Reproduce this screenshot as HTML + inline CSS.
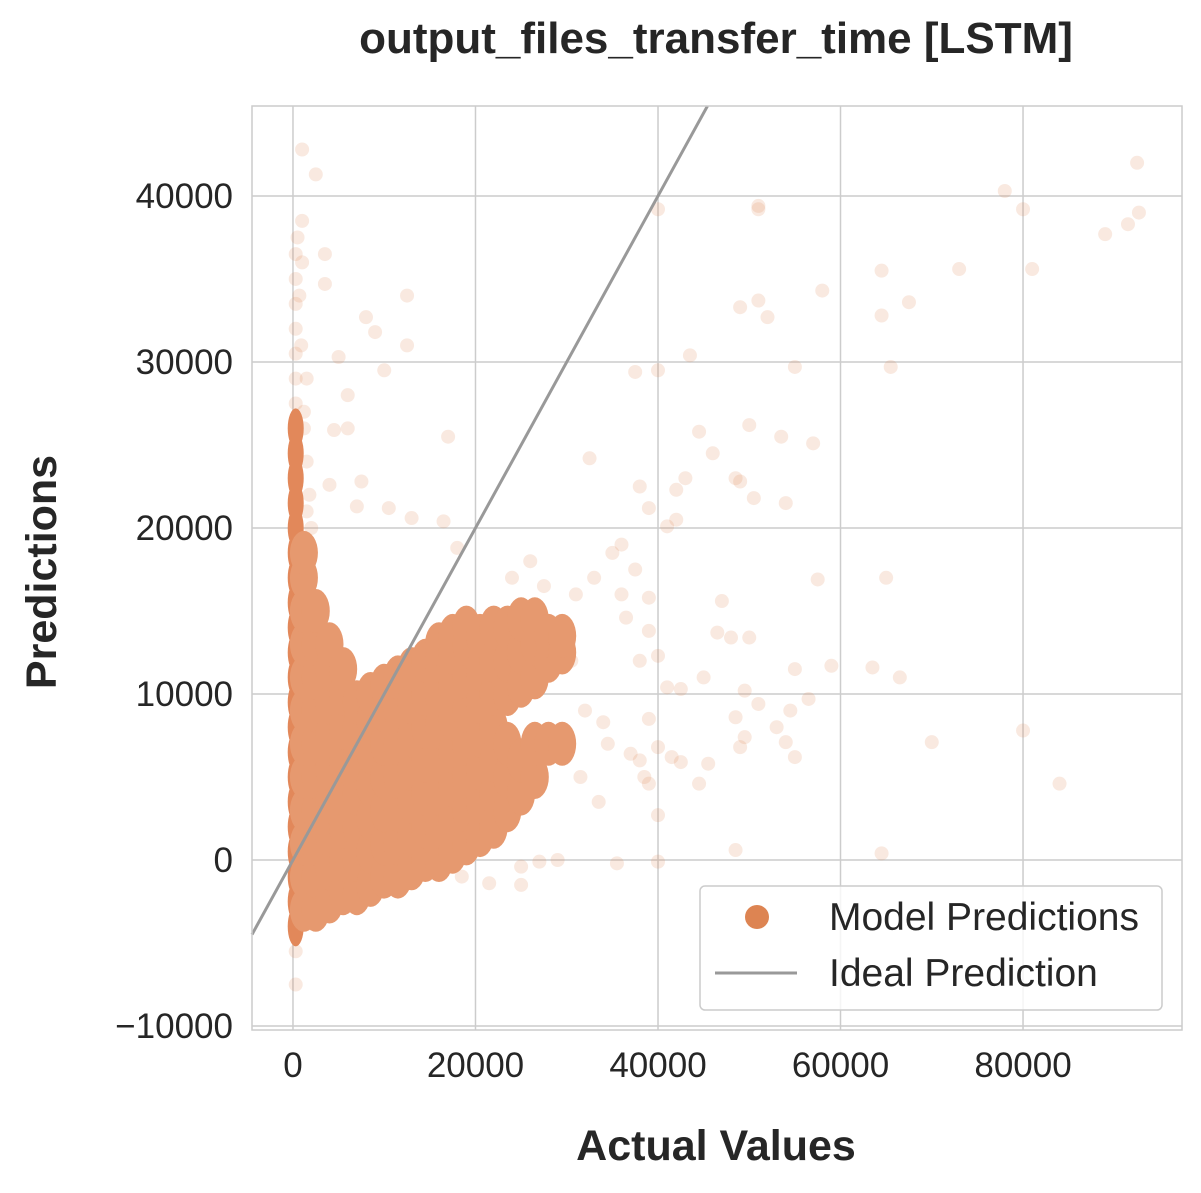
<!DOCTYPE html>
<html><head><meta charset="utf-8"><style>
body{margin:0;background:#fff}
svg text{font-family:"Liberation Sans",Arial,sans-serif;fill:#262626}
</style></head><body>
<svg id="chart" width="1201" height="1188" viewBox="0 0 1201 1188" xmlns="http://www.w3.org/2000/svg">
<text x="716" y="53" text-anchor="middle" font-size="44" font-weight="bold">output_files_transfer_time [LSTM]</text>
<g id="grid"></g>
<g id="marks"></g>
<g id="ideal"></g>
<rect x="252" y="106" width="930" height="924" fill="none" stroke="#cccccc" stroke-width="1.5"/>
<g id="ticks"></g>
<text x="716" y="1160" text-anchor="middle" font-size="43" font-weight="bold">Actual Values</text>
<text transform="translate(56,572) rotate(-90)" text-anchor="middle" font-size="43" font-weight="bold">Predictions</text>
<g>
<rect x="700" y="886" width="462" height="124" rx="5" fill="#fff" fill-opacity="0.8" stroke="#cccccc" stroke-width="1.5"/>
<circle cx="757" cy="917" r="12" fill="#dd8452"/>
<text x="829" y="930" font-size="39">Model Predictions</text>
<line x1="715" y1="973" x2="797" y2="973" stroke="#999999" stroke-width="3"/>
<text x="829" y="986" font-size="39">Ideal Prediction</text>
</g>
</svg>
<script>
const xTicks=[0,20000,40000,60000,80000];
const yTicks=[-10000,0,10000,20000,30000,40000];
const xDomain=[-4490,97420];
const yDomain=[-10240,45420];
// dense cluster columns: x (thousands), predicted values (thousands)
const denseX=[0.3,1.2,2.5,4,5.5,7,8.5,10,11.5,13,14.5,16,17.5,19,20.5,22,23.5,25,26.5,28,29.5];
const denseY=[
[-4,-2.5,-1,0.5,2,3.5,5,6.5,8,9.5,11,12.5,14,15.5,17,18.5,20,21.5,23,24.5,26],
[-3,-1,1,3,5,7,9,11,13,15,17,18.5],
[-3,-1,1,3,5,7,9,11,13,15],
[-2.5,-0.5,1.5,3.5,5.5,7.5,9.5,11.5,13],
[-2,0,2,4,6,8,10,11.5],
[-2,0,2,4,6,8,9.5],
[-1.5,0.5,2.5,4.5,6.5,8.5,10],
[-1,1,3,5,7,9,10.5],
[-1,1,3,5,7,9,11],
[-0.5,1.5,3.5,5.5,7.5,9.5,11.5],
[0,2,4,6,8,10,12],
[0,2,4,6,8,10,12,13],
[0.5,2.5,4.5,6.5,8.5,10.5,12.5,13.5],
[1,3,5,7,9,11,13,14],
[1.5,3.5,5.5,7.5,9.5,11.5,13.5],
[2,4,6,8,10,12,14],
[3,5,7,10,12,14],
[4,6,10.5,12.5,14.5],
[5,7,11,13,14.5],
[7,12,13.5],
[7,12.5,13.5]];
const sparseX=[300,300,300,300,300,300,300,300,300,500,700,900,1500,1500,1800,2000,1500,1200,1200,1000,1000,2500,1000,3500,3500,12500,8000,9000,12500,5000,10000,6000,4500,6000,17000,4000,7500,7000,10500,13000,16500,18000,32500,40000,51000,51000,49000,51000,52000,58000,64500,64500,67500,73000,78000,80000,81000,89000,91500,92500,92700,43500,40000,37500,55000,65500,50000,53500,57000,44500,46000,42000,43000,38000,39000,48500,49000,50500,54000,41000,42000,36000,35000,37500,57500,65000,36000,39000,47000,36500,39000,46500,48000,50000,38000,40000,55000,59000,63500,66500,41000,42500,45000,49500,51000,48500,54500,53000,56500,34000,39000,37000,38000,40000,41500,42500,45500,44500,49000,49500,54000,55000,70000,80000,84000,39000,38500,40000,48500,64500,40000,35500,27000,25000,25000,29000,21500,18500,31000,33000,30500,32000,34500,27500,26000,24000,31500,33500];
const sparseY=[-7.5e3,-5.5e3,27500,29000,30500,32000,33500,35000,36500,37500,34000,31000,29000,24000,22000,20000,21000,26000,27000,36000,38500,41300,42800,36500,34700,34000,32700,31800,31000,30300,29500,28000,25900,26000,25500,22600,22800,21300,21200,20600,20400,18800,24200,39200,39400,39200,33300,33700,32700,34300,35500,32800,33600,35600,40300,39200,35600,37700,38300,42000,39000,30400,29500,29400,29700,29700,26200,25500,25100,25800,24500,22300,23000,22500,21200,23000,22800,21800,21500,20100,20500,19000,18500,17500,16900,17000,16000,15800,15600,14600,13800,13700,13400,13400,12000,12300,11500,11700,11600,11000,10400,10300,11000,10200,9400,8600,9000,8000,9700,8300,8500,6400,6000,6800,6200,5900,5800,4600,6800,7400,7100,6200,7100,7800,4600,4600,5000,2700,600,400,-100,-200,-100,-400,-1500,0,-1400,-1000,16000,17000,12000,9000,7000,16500,18000,17000,5000,3500];
const NS='http://www.w3.org/2000/svg';
const X0=252,X1=1182,Y0=1030,Y1=106;
function sx(v){return X0+(v-xDomain[0])/(xDomain[1]-xDomain[0])*(X1-X0);}
function sy(v){return Y0-(v-yDomain[0])/(yDomain[1]-yDomain[0])*(Y0-Y1);}
function mk(tag,attrs,parent){const e=document.createElementNS(NS,tag);for(const k in attrs)e.setAttribute(k,attrs[k]);parent.appendChild(e);return e;}
const grid=document.getElementById('grid'),ticks=document.getElementById('ticks'),marks=document.getElementById('marks');
xTicks.forEach(t=>{
 const l=mk('line',{x1:sx(t),x2:sx(t),y1:Y1,y2:Y0,stroke:'#cccccc','stroke-width':1.5},grid);
 
 
 const tx=mk('text',{x:sx(t),y:1077,'text-anchor':'middle','font-size':35},ticks);
 tx.textContent=String(t);
 
 
});
yTicks.forEach(t=>{
 const l=mk('line',{x1:X0,x2:X1,y1:sy(t),y2:sy(t),stroke:'#cccccc','stroke-width':1.5},grid);
 
 
 const tx=mk('text',{x:233,y:sy(t)+12,'text-anchor':'end','font-size':35},ticks);
 tx.textContent=t<0?'\u2212'+Math.abs(t):String(t);
 
 
});
const sparseG=mk('g',{},marks);


sparseX.forEach((x,i)=>{
 const c=mk('circle',{cx:sx(x),cy:sy(sparseY[i]),r:7,fill:'#dd8452','fill-opacity':0.18},sparseG);
 
 
});
const dense=mk('g',{},marks);


denseX.forEach((x,i)=>{
 const first=i===0;
 denseY[i].forEach(y=>{
  const c=mk('ellipse',{cx:sx(x*1000),cy:sy(y*1000),rx:first?8:14,ry:first?20:22,fill:first?'#e2885a':'#e6996f'},dense);
  
  
 });
});
const ideal=document.getElementById('ideal');
const lo=xDomain[0],hi=yDomain[1];
const ln=mk('line',{x1:sx(lo),y1:sy(lo),x2:sx(hi),y2:sy(hi),stroke:'#999999','stroke-width':3},ideal);


</script>
</body></html>
